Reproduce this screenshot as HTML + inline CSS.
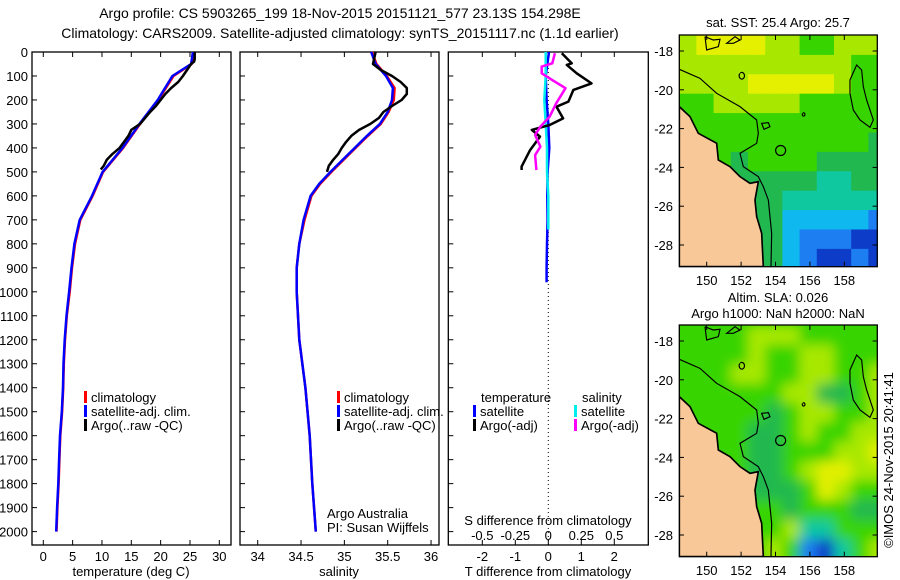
<!DOCTYPE html>
<html><head><meta charset="utf-8"><style>
body{margin:0;background:#fff}
svg{display:block;font-family:"Liberation Sans",sans-serif;font-size:13px}
</style></head><body>
<svg id="c" width="900" height="580" xmlns="http://www.w3.org/2000/svg">
<defs>
<clipPath id="m1c"><rect x="679.3" y="35" width="198" height="231.7"/></clipPath>
<clipPath id="m2c"><rect x="679.3" y="325" width="198" height="231.7"/></clipPath>
<filter id="bl" x="-10%" y="-10%" width="120%" height="120%"><feGaussianBlur stdDeviation="6"/></filter>
</defs>
<text x="340" y="18" text-anchor="middle" font-size="14">Argo profile: CS 5903265_199 18-Nov-2015 20151121_577 23.13S 154.298E</text>
<text x="340" y="38" text-anchor="middle" font-size="14">Climatology: CARS2009. Satellite-adjusted climatology: synTS_20151117.nc (1.1d earlier)</text>
<g id="g"></g>
</svg>
<script>
// ---- data ----
const depthsClim=[0,50,100,200,300,400,500,600,700,800,900,1000,1100,1200,1300,1400,1500,1600,1700,1800,1900,2000];
const tempClim=[25.6,25.3,22.2,19.6,16.5,13.6,10.2,8.4,6.3,5.4,4.9,4.5,4.0,3.7,3.5,3.4,3.2,2.9,2.75,2.6,2.4,2.25];
const tempSat=[25.5,25.2,22.0,19.5,16.4,13.5,10.1,8.3,6.2,5.3,4.8,4.4,3.95,3.65,3.45,3.35,3.15,2.85,2.7,2.55,2.35,2.2];
const depthsSal=[0,50,100,150,200,250,300,350,400,450,500,550,600,700,800,900,1000,1200,1400,1600,1800,2000];
const salClim=[35.32,35.37,35.49,35.58,35.57,35.51,35.42,35.27,35.13,34.99,34.85,34.72,34.62,34.54,34.48,34.45,34.45,34.48,34.55,34.6,34.63,34.67];
const salSat=[35.31,35.36,35.48,35.56,35.55,35.5,35.41,35.26,35.12,34.98,34.84,34.71,34.61,34.53,34.48,34.45,34.45,34.48,34.55,34.6,34.63,34.67];
const depthsArgoT=[0,10,20,30,40,50,75,100,125,150,175,200,225,250,300,325,350,400,425,450,475,490];
const tempArgo=[25.8,25.8,25.8,25.8,25.7,25.2,24.5,23.8,23.0,21.8,20.8,20.0,19.2,18.2,16.5,15.0,14.5,13.0,11.8,10.8,10.3,9.8];
const depthsArgoS=[0,50,75,100,125,150,175,200,225,250,275,300,325,350,375,400,425,450,475,500];
const salArgo=[35.36,35.33,35.42,35.55,35.65,35.72,35.72,35.66,35.55,35.45,35.4,35.3,35.17,35.08,35.02,34.97,34.93,34.87,34.82,34.8];
const depthsDT=[5,47,54,89,131,158,207,228,277,304,325,353,409,478,492];
const dTArgo=[0.41,0.71,0.56,0.86,1.31,0.76,0.61,0.25,0.45,0.05,-0.5,-0.25,-0.55,-0.81,-0.81];
const depthsDS=[5,47,61,89,117,151,214,270,311,346,395,430,492];
const dSArgo=[0.05,0.03,-0.05,-0.05,0.03,0.13,0.06,0.01,-0.06,-0.1,-0.06,-0.1,-0.09];
const depthsSatDT=[0,100,200,300,400,500,600,700,800,900,960];
const dTSat=[0.02,-0.08,-0.05,0.0,0.03,-0.02,-0.03,-0.02,-0.04,-0.05,-0.05];
const depthsSatDS=[0,100,200,300,400,500,600,700,740];
const dSSat=[-0.02,-0.02,-0.03,-0.02,-0.01,-0.01,0.0,0.0,0.0];
const depthTicks=[0,100,200,300,400,500,600,700,800,900,1000,1100,1200,1300,1400,1500,1600,1700,1800,1900,2000];
const tempTicks=[0,5,10,15,20,25,30];
const salTicks=[34,34.5,35,35.5,36];
const salTickLabels=["34","34.5","35","35.5","36"];
const dTTicks=[-2,-1,0,1,2];
const dSTicks=[-0.5,-0.25,0,0.25,0.5];
const dSTickLabels=["-0.5","-0.25","0","0.25","0.5"];
const latTicks=[-18,-20,-22,-24,-26,-28];
const lonTicks=[150,152,154,156,158];
const gridLons=[148.4,149.4,150.4,151.4,152.4,153.4,154.4,155.4,156.4,157.4,158.4,159.4];
const gridLats=[-17.2,-18.2,-19.2,-20.2,-21.2,-22.2,-23.2,-24.2,-25.2,-26.2,-27.2,-28.2];
const sstGrid=[
[7,8,8,8,8,7,7,6,6,7,7,7],
[7,7,7,7,7,7,7,7,7,7,6,6],
[7,7,7,7,8,8,8,8,8,7,6,6],
[6,6,7,7,7,7,7,6,6,6,6,6],
[6,6,6,6,6,6,6,6,6,6,6,6],
[6,6,6,6,6,6,6,6,6,6,6,5],
[6,6,6,5,6,6,6,6,5,5,5,5],
[5,5,5,5,5,5,5,5,4,4,5,5],
[5,5,5,5,5,5,4,4,4,4,4,4],
[5,5,5,5,5,5,3,3,3,3,3,2],
[5,5,5,5,5,5,3,2,2,2,1,1],
[5,5,5,5,5,5,3,2,1,1,2,1]];
const slaGrid=[
[6,6,6,6,7,7,7,6,6,6,6,6],
[6,6,6,6,7,6,6,7,7,6,6,6],
[6,6,6,7,7,6,6,7,7,6,6,7],
[6,6,6,6,6,6,7,7,5,5,6,7],
[6,6,6,6,6,5,6,7,7,6,6,7],
[6,6,6,6,5,5,6,7,6,6,7,7],
[6,6,6,6,5,5,6,6,6,7,7,8],
[6,6,6,6,5,5,6,7,8,8,7,7],
[6,6,6,6,5,5,5,6,8,7,6,6],
[6,6,6,6,6,6,5,6,6,6,5,5],
[6,6,6,6,6,6,7,4,4,6,6,6],
[6,6,6,6,6,7,6,2,1,4,6,7]];
const argoLon=154.298, argoLat=-23.13;
// ---- scales ----
const yD=d=>52+0.2398*d;
const xT=t=>43.3+5.867*t;
const xS=s=>257.7+86.67*(s-34);
const xdT=t=>548.3+33*t;
const xdS=s=>548.3+132*s;
const lonX=l=>706.7+17.2*(l-150);
const latY=(l,off)=>51+off+19.4*(-18-l);
const cmap=["#000","#0c3cc8","#1c7ef0","#10b8f0","#10c8a0","#22b850","#38d400","#a8e800","#e4f000"];
const NS="http://www.w3.org/2000/svg";
const G=document.getElementById('g');
function mk(tag,attrs,parent){const e=document.createElementNS(NS,tag);for(const k in attrs)e.setAttribute(k,attrs[k]);(parent||G).appendChild(e);return e;}
function txt(x,y,s,anchor,parent){const e=mk('text',{x:x,y:y,'text-anchor':anchor||'start'},parent);e.textContent=s;return e;}
function line(xs,ds,xf,color,w,name){
  const p=xs.map((v,i)=>xf(v).toFixed(1)+','+yD(ds[i]).toFixed(1)).join(' ');
  const e=mk('polyline',{points:p,fill:'none',stroke:color,'stroke-width':w,'stroke-linejoin':'round'});
  
  
}
// panels
const panels=[[32,231],[240,439],[448.3,648.3]];
panels.forEach((p,i)=>{
  const r=mk('rect',{x:p[0],y:52,width:p[1]-p[0],height:493,fill:'none',stroke:'#000','stroke-width':1.3});
  
  
  depthTicks.forEach(d=>{mk('line',{x1:p[0],x2:p[0]+5,y1:yD(d),y2:yD(d),stroke:'#000'});});
});
depthTicks.forEach(d=>{
  const t=txt(28,yD(d)+5,String(d),'end');
  
  
});
tempTicks.forEach(v=>{
  mk('line',{x1:xT(v),x2:xT(v),y1:52,y2:57,stroke:'#000'});mk('line',{x1:xT(v),x2:xT(v),y1:545,y2:540,stroke:'#000'});
  const t=txt(xT(v),561,String(v),'middle');
  
  
});
salTicks.forEach((v,i)=>{
  mk('line',{x1:xS(v),x2:xS(v),y1:52,y2:57,stroke:'#000'});mk('line',{x1:xS(v),x2:xS(v),y1:545,y2:540,stroke:'#000'});
  const t=txt(xS(v),561,salTickLabels[i],'middle');
  
  
});
dTTicks.forEach(v=>{
  mk('line',{x1:xdT(v),x2:xdT(v),y1:52,y2:57,stroke:'#000'});mk('line',{x1:xdT(v),x2:xdT(v),y1:545,y2:540,stroke:'#000'});
  const t=txt(xdT(v),561,String(v),'middle');
  
  
});
dSTicks.forEach((v,i)=>{
  const t=txt(xdS(v),540,dSTickLabels[i],'middle');
  
  
});
[['temperature (deg C)',131,'temperature-axis-title'],['salinity',339,'salinity-axis-title'],['T difference from climatology',548,'t-diff-axis-title']].forEach(a=>{
  const t=txt(a[1],576,a[0],'middle');
  
  
});
{const t=txt(548,525,'S difference from climatology','middle');

}
{const z=mk('line',{x1:548.3,x2:548.3,y1:52,y2:545,stroke:'#000','stroke-dasharray':'1,3'});

}
// series
line(tempClim,depthsClim,xT,'#f00',2.5,'temp-climatology-line');
line(tempSat,depthsClim,xT,'#00f',2.5,'temp-satellite-line');
line(tempArgo,depthsArgoT,xT,'#000',2.5,'temp-argo-line');
line(salClim,depthsSal,xS,'#f00',2.5,'sal-climatology-line');
line(salSat,depthsSal,xS,'#00f',2.5,'sal-satellite-line');
line(salArgo,depthsArgoS,xS,'#000',2.5,'sal-argo-line');
line(dTSat,depthsSatDT,xdT,'#00f',2.5,'t-diff-satellite-line');
line(dSSat,depthsSatDS,xdS,'#0ee',2.5,'s-diff-satellite-line');
line(dTArgo,depthsDT,xdT,'#000',2.5,'t-diff-argo-line');
line(dSArgo,depthsDS,xdS,'#f0f',2.5,'s-diff-argo-line');
// legends
function leg(x,y,c,s,name){mk('rect',{x:x,y:y-11,width:3,height:12,fill:c});const t=txt(x+7,y,s);}
[[84,'temp'],[337,'sal']].forEach(a=>{
  leg(a[0],402,'#f00','climatology',a[1]+'-legend-climatology');
  leg(a[0],416,'#00f','satellite-adj. clim.',a[1]+'-legend-satellite');
  leg(a[0],430,'#000','Argo(..raw -QC)',a[1]+'-legend-argo');
});
{const t=txt(481,402,'temperature');}
{const t=txt(582,402,'salinity');}
leg(473,416,'#00f','satellite','diff-legend-t-satellite');
leg(473,430,'#000','Argo(-adj)','diff-legend-t-argo');
leg(574,416,'#0ee','satellite','diff-legend-s-satellite');
leg(574,430,'#f0f','Argo(-adj)','diff-legend-s-argo');
{const t=txt(327,518,'Argo Australia');}
{const t=txt(327,532,'PI: Susan Wijffels');}
// maps
const land="M118,320 L150,350 L175,400 L230,430 L235,480 L270,500 L300,530 L330,550 L355,545 L345,600 L350,650 L365,700 L370,800 L118,800 Z";
const iso="M118,208 L180,235 L230,280 L300,320 L350,360 L355,400 L350,430 L300,460 L310,500 L355,530 L370,560 L385,600 L390,650 L395,700 L393,800 M630,240 L650,195 L665,210 L670,260 L680,300 L700,360 L690,382 L660,360 L640,330 L630,280 Z M195,110 L200,150 L235,140 L240,118 L220,120 L195,110 M260,130 L285,110 L300,120 L280,130 Z M300,220 A8,10 0 1 0 301,219 M365,370 L385,368 L390,380 L372,388 Z M488,340 A4,5 0 1 0 489,339";
function map(off,grid,name,title1,title2,clip,blur){
  const top=35+off, fy=t=>latY(t,off);
  const g=mk('g',{'clip-path':'url(#'+clip+')'});
  
  
  mk('rect',{x:670,y:top-10,width:220,height:250,fill:cmap[6]},g);
  const cg=mk('g',blur?{filter:'url(#bl)'}:{},g);
  grid.forEach((row,r)=>row.forEach((v,c)=>{
    const x0=lonX(gridLons[c]),y0=fy(gridLats[r]);
    const ex=(c===row.length-1)?12:0, ey=(r===grid.length-1)?12:0;
    const cell=mk('rect',{x:x0,y:y0,width:17.7+ex,height:19.9+ey,fill:cmap[v]},cg);
    
    
  }));
  const tg=mk('g',{transform:'translate(640,'+off+') scale(0.3333)'},g);
  mk('path',{d:land,fill:'#f9c898',stroke:'#000','stroke-width':5},tg);
  mk('path',{d:iso,fill:'none',stroke:'#000','stroke-width':3.5},tg);
  mk('circle',{cx:lonX(argoLon),cy:fy(argoLat),r:5,fill:'none',stroke:'#000','stroke-width':1.2},g);
  const fr=mk('rect',{x:679.3,y:top,width:198,height:231.7,fill:'none',stroke:'#000','stroke-width':1.3});
  
  
  latTicks.forEach(l=>{const y=fy(l);mk('line',{x1:679.3,x2:684,y1:y,y2:y,stroke:'#000'});mk('line',{x1:877.3,x2:872.6,y1:y,y2:y,stroke:'#000'});
    const t=txt(673,y+5,String(l),'end');});
  lonTicks.forEach(l=>{const x=lonX(l);mk('line',{x1:x,x2:x,y1:top,y2:top+5,stroke:'#000'});mk('line',{x1:x,x2:x,y1:top+231.7,y2:top+226.7,stroke:'#000'});
    const t=txt(x,top+250,String(l),'middle');});
  const t1=txt(778,top-(title2?23:8),title1,'middle');
  if(title2){const t2=txt(778,top-7,title2,'middle');}
}
map(0,sstGrid,'sst-map','sat. SST: 25.4 Argo: 25.7',null,'m1c',false);
map(290,slaGrid,'sla-map','Altim. SLA: 0.026','Argo h1000: NaN h2000: NaN','m2c',true);
{const t=txt(0,0,'©IMOS 24-Nov-2015 20:41:41','middle');t.setAttribute('transform','translate(893,460) rotate(-90)');}
</script>
</body></html>
